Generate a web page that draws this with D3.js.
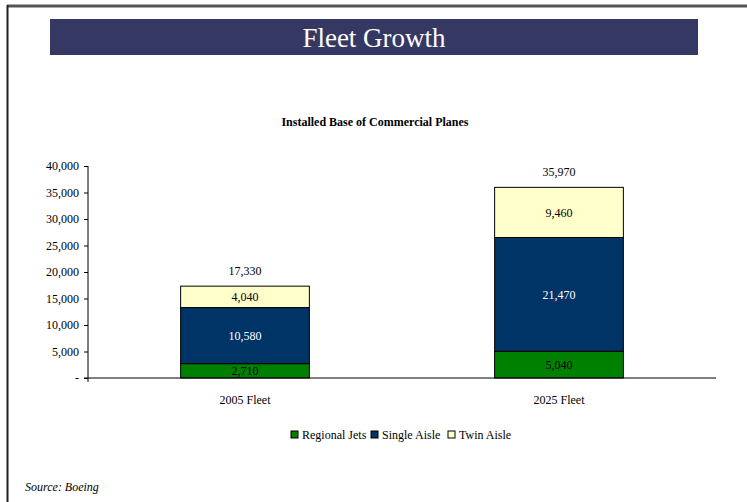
<!DOCTYPE html>
<html>
<head>
<meta charset="utf-8">
<script src="https://cdn.jsdelivr.net/npm/d3@7"></script>
<style>
  body { margin: 0; background: #fff; }
</style>
</head>
<body>
<script>
// data
const categories = ["2005 Fleet", "2025 Fleet"];
const seriesNames = ["Regional Jets", "Single Aisle", "Twin Aisle"];
const regionalJets = [2710, 5040];
const singleAisle = [10580, 21470];
const twinAisle = [4040, 9460];
const totals = [17330, 35970];
const yTicks = [0, 5000, 10000, 15000, 20000, 25000, 30000, 35000, 40000];

const colors = ["#008000", "#003366", "#ffffcc"];
const labelColors = ["#000", "#fff", "#000"];
const serif = "'Liberation Serif', 'DejaVu Serif', 'Times New Roman', serif";

let width = 747, height = 502;
let margin = { top: 166, right: 31, bottom: 124, left: 88 };

let svg = d3.select("body").append("svg")
    .attr("width", width)
    .attr("height", height)
    .attr("font-family", serif);

// page frame
svg.append("line").attr("x1", 7).attr("x2", width).attr("y1", 6).attr("y2", 6)
    .attr("stroke", "#555").attr("stroke-width", 3);
svg.append("line").attr("x1", 7.5).attr("x2", 7.5).attr("y1", 5).attr("y2", height)
    .attr("stroke", "#222").attr("stroke-width", 2);

// title banner
svg.append("rect").attr("x", 50).attr("y", 19).attr("width", 648).attr("height", 36)
    .attr("fill", "#353862");
svg.append("text").attr("x", 374).attr("y", 47).attr("text-anchor", "middle")
    .attr("fill", "#fff").attr("font-size", 27).text("Fleet Growth");

svg.append("text").attr("x", 375).attr("y", 126).attr("text-anchor", "middle")
    .attr("font-size", 12).attr("font-weight", "bold")
    .text("Installed Base of Commercial Planes");

let x = d3.scaleBand().domain(categories)
    .range([margin.left, width - margin.right])
    .paddingInner(0.59).paddingOuter(0.295);

let y = d3.scaleLinear().domain([0, 40000])
    .range([height - margin.bottom, margin.top]);

// y axis
let yAxis = svg.append("g")
    .attr("transform", "translate(" + margin.left + ",0)")
    .call(d3.axisLeft(y).tickValues(yTicks).tickSize(4).tickPadding(5)
        .tickFormat(d => d === 0 ? "-" : d3.format(",")(d)));
yAxis.attr("font-family", serif).attr("font-size", 12);
yAxis.selectAll("text").attr("fill", "#000");
yAxis.selectAll("line, path").attr("stroke", "#000");
yAxis.select(".domain").attr("d", "M0," + y(40000) + "V" + y(0));

// stacked bars
let rows = categories.map((c, i) => ({
    cat: c, "Regional Jets": regionalJets[i], "Single Aisle": singleAisle[i], "Twin Aisle": twinAisle[i]
}));
let stack = d3.stack().keys(seriesNames)(rows);

let layer = svg.selectAll(".layer").data(stack).enter().append("g").attr("class", "layer");

layer.selectAll("rect").data((d, i) => d.map(p => ({ p: p, i: i })))
    .enter().append("rect")
    .attr("x", d => x(d.p.data.cat))
    .attr("width", x.bandwidth())
    .attr("y", d => y(d.p[1]))
    .attr("height", d => y(d.p[0]) - y(d.p[1]))
    .attr("fill", d => colors[d.i])
    .attr("stroke", "#000").attr("stroke-width", 1);

layer.selectAll("text").data((d, i) => d.map(p => ({ p: p, i: i })))
    .enter().append("text")
    .attr("x", d => x(d.p.data.cat) + x.bandwidth() / 2)
    .attr("y", d => (y(d.p[0]) + y(d.p[1])) / 2)
    .attr("dy", "0.35em")
    .attr("text-anchor", "middle")
    .attr("fill", d => labelColors[d.i])
    .attr("font-size", 12)
    .text(d => d3.format(",")(d.p[1] - d.p[0]));

// totals
svg.selectAll(".total").data(categories).enter().append("text")
    .attr("class", "total")
    .attr("x", d => x(d) + x.bandwidth() / 2)
    .attr("y", (d, i) => y(totals[i]) - 11)
    .attr("text-anchor", "middle")
    .attr("font-size", 12)
    .text((d, i) => d3.format(",")(totals[i]));

// x axis
let xAxis = svg.append("g")
    .attr("transform", "translate(0," + y(0) + ")");
xAxis.append("line").attr("x1", margin.left - 4).attr("x2", width - margin.right)
    .attr("stroke", "#000");
xAxis.append("line").attr("x1", margin.left).attr("x2", margin.left)
    .attr("y1", 0).attr("y2", 4).attr("stroke", "#000");
xAxis.selectAll(".cat").data(categories).enter().append("text")
    .attr("class", "cat")
    .attr("x", d => x(d) + x.bandwidth() / 2)
    .attr("y", 26)
    .attr("text-anchor", "middle")
    .attr("font-size", 12)
    .text(d => d);

// legend
let legend = svg.append("g").attr("transform", "translate(291,435)");
let offsets = [0, 80, 157];
seriesNames.forEach((s, i) => {
    let g = legend.append("g").attr("transform", "translate(" + offsets[i] + ",0)");
    g.append("rect").attr("x", 0).attr("y", -4).attr("width", 7).attr("height", 7)
        .attr("fill", colors[i]).attr("stroke", "#000");
    g.append("text").attr("x", 11).attr("y", 0).attr("dy", "0.35em")
        .attr("font-size", 12).text(s);
});

svg.append("text").attr("x", 25).attr("y", 491)
    .attr("font-size", 12).attr("font-style", "italic")
    .text("Source: Boeing");
</script>
</body>
</html>
